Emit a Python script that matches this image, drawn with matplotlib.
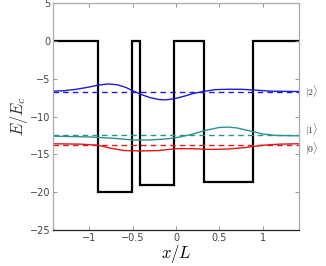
import matplotlib
matplotlib.use("Agg")
import matplotlib.pyplot as plt

plt.rcParams['mathtext.fontset'] = 'cm'

# potential profile (step edges and levels)
pot_edges = [-1.42, -0.9, -0.505, -0.41, -0.02, 0.32, 0.885, 1.42]
pot_levels = [0, -20, 0, -19, 0, -18.6, 0]

# energy levels
E2 = -6.7
E1 = -12.5
E0 = -13.7

# wavefunctions
x2 = [-1.42, -1.3, -1.15, -1.0, -0.9, -0.78, -0.68, -0.58, -0.49, -0.4, -0.3,
      -0.2, -0.12, -0.02, 0.1, 0.2, 0.34, 0.45, 0.6, 0.75, 0.9, 1.1, 1.42]
y2 = [-6.65, -6.6, -6.4, -6.1, -5.85, -5.7, -5.8, -6.15, -6.65, -7.1, -7.5,
      -7.75, -7.8, -7.65, -7.3, -6.95, -6.65, -6.45, -6.4, -6.4, -6.5, -6.65, -6.7]

x1 = [-1.42, -1.0, -0.7, -0.5, -0.3, -0.1, 0.05, 0.2, 0.35, 0.5, 0.6, 0.7,
      0.85, 1.0, 1.15, 1.42]
y1 = [-12.6, -12.7, -12.9, -13.1, -13.1, -12.95, -12.7, -12.3, -11.8, -11.45,
      -11.4, -11.5, -11.9, -12.3, -12.5, -12.55]

x0 = [-1.42, -1.1, -0.9, -0.75, -0.6, -0.4, -0.2, 0.0, 0.2, 0.4, 0.6, 0.8,
      1.0, 1.2, 1.42]
y0 = [-13.6, -13.65, -13.8, -14.2, -14.5, -14.55, -14.5, -14.25, -14.25,
      -14.35, -14.3, -14.1, -13.8, -13.65, -13.6]

blue = "#1c1cd6"
teal = "#2a9090"
red = "#e01818"

fig = plt.figure(figsize=(3.26, 2.66), dpi=100)
ax = fig.add_axes([0.1626, 0.1353, 0.7546, 0.8534])

ax.stairs(pot_levels, pot_edges, baseline=None, color="black", lw=1.6)

ax.axhline(E2, color=blue, lw=1, ls=(0, (4, 3)))
ax.axhline(E1, color=teal, lw=1, ls=(0, (4, 3)))
ax.axhline(E0, color=red, lw=1, ls=(0, (4, 3)))

ax.plot(x2, y2, color=blue, lw=1)
ax.plot(x1, y1, color=teal, lw=1)
ax.plot(x0, y0, color=red, lw=1)

ax.set_xlim(-1.42, 1.42)
ax.set_ylim(-25, 5)
ax.set_xticks([-1, -0.5, 0, 0.5, 1])
ax.set_xticklabels(["\u22121", "\u22120.5", "0", "0.5", "1"])
ax.set_yticks([5, 0, -5, -10, -15, -20, -25])
ax.set_yticklabels(["5", "0", "\u22125", "\u221210", "\u221215", "\u221220", "\u221225"])
ax.tick_params(direction="in", length=3, width=0.6, labelsize=7, pad=2,
               labelcolor="#444444", color="#888888", top=True, right=True)

for side in ["left", "top", "right"]:
    ax.spines[side].set_color("#aaaaaa")
ax.spines["bottom"].set_color("#222222")
for s in ax.spines.values():
    s.set_linewidth(0.9)

ax.set_xlabel(r"$x/L$", fontsize=12, labelpad=0)
ax.set_ylabel(r"$E/E_c$", fontsize=12, labelpad=0, color="#333333")

fig.text(0.935, 0.655, r"$|2\rangle$", fontsize=7, va="center", color="#333333")
fig.text(0.935, 0.51, r"$|1\rangle$", fontsize=7, va="center", color="#333333")
fig.text(0.935, 0.44, r"$|0\rangle$", fontsize=7, va="center", color="#333333")

fig.savefig("out.png", dpi=100)
